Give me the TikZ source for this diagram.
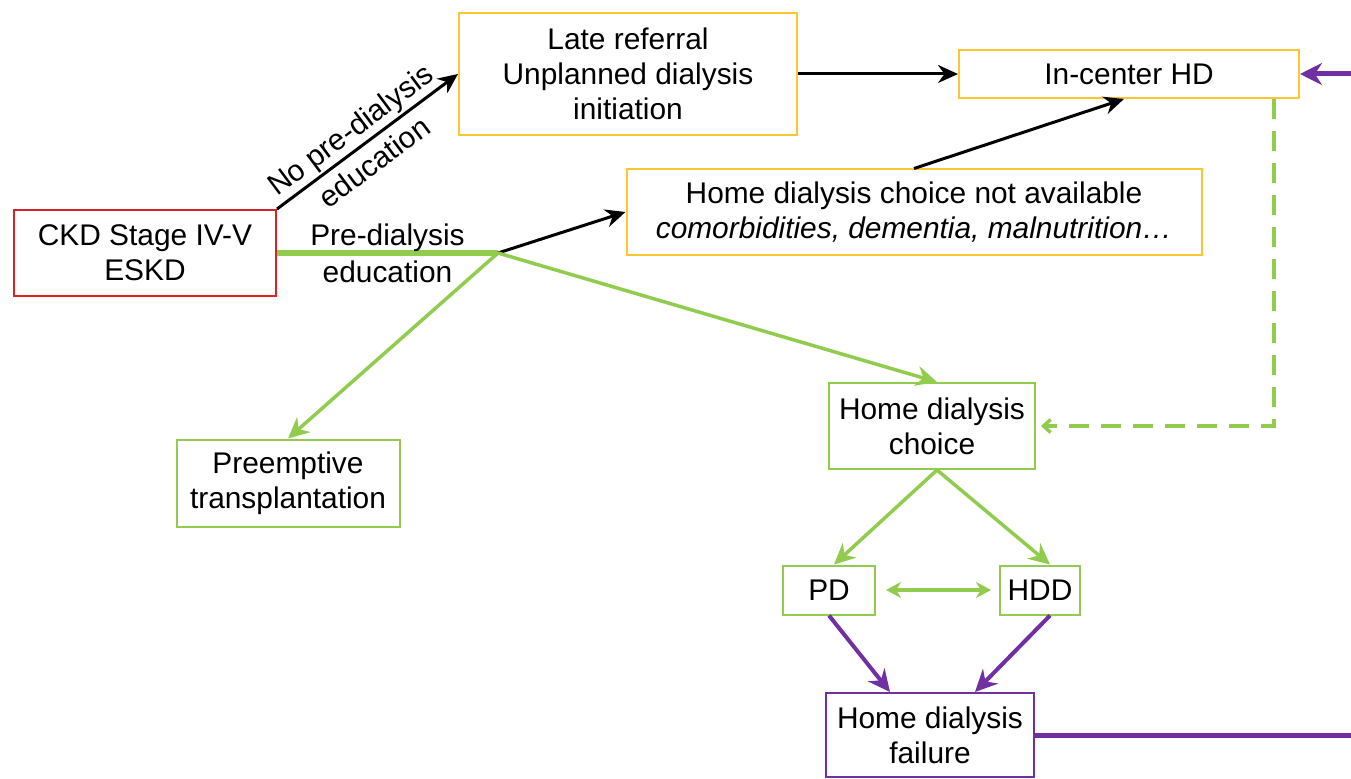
\documentclass[tikz,border=0pt]{standalone}
\usepackage{fontspec}
\setmainfont{Liberation Sans}
\usetikzlibrary{arrows.meta}
\definecolor{brickred}{rgb}{0.86, 0.13, 0.15}
\definecolor{mustard}{rgb}{0.98, 0.78, 0.20}
\definecolor{grassgreen}{rgb}{0.57, 0.80, 0.31}
\definecolor{grape}{rgb}{0.44, 0.19, 0.63}

\begin{document}
\begin{tikzpicture}[x=0.2mm, y=-0.2mm,
    box/.style={draw, line width=0.4mm, inner sep=0pt, align=center,
      font=\fontsize{17}{20}\selectfont},
    pathlabel/.style={text=black, align=center, font=\fontsize{17}{20}\selectfont},
    blackarrow/.style={black, line width=0.6mm, -{Stealth[length=4mm, width=3.6mm]}},
    greenarrow/.style={grassgreen, line width=0.7mm, -{Stealth[length=4.2mm, width=4mm]}},
    purplearrow/.style={grape, line width=0.8mm, -{Stealth[length=4.4mm, width=4.2mm]}}]
  \useasboundingbox (0,0) rectangle (1351,779);

  \node [box, draw=brickred, minimum width=52.4mm, minimum height=17.2mm] (ckd) at (145,253) {CKD Stage IV-V\\ESKD};
  \node [box, draw=mustard, minimum width=67.6mm, minimum height=24.4mm] (late) at (628,74) {Late referral\\Unplanned dialysis\\initiation};
  \node [box, draw=mustard, minimum width=68mm, minimum height=9.6mm] (incenter) at (1129,74) {In-center HD};
  \node [box, draw=mustard, minimum width=115mm, minimum height=17mm] (notavail) at (914,212) {Home dialysis choice not available\\\textit{comorbidities, dementia, malnutrition…}};
  \node [box, draw=grassgreen, minimum width=44.6mm, minimum height=17.4mm] (preempt) at (288,483) {Preemptive\\transplantation};
  \node [box, draw=grassgreen, minimum width=41.2mm, minimum height=17.2mm] (choice) at (932,426) {Home dialysis\\choice};
  \node [box, draw=grassgreen, minimum width=18.4mm, minimum height=9.8mm] (pd) at (829,590) {PD};
  \node [box, draw=grassgreen, minimum width=16mm, minimum height=9.8mm] (hdd) at (1040,590) {HDD};
  \node [box, draw=grape, minimum width=41.6mm, minimum height=16.8mm] (failure) at (930,735) {Home dialysis\\failure};

  \coordinate (J) at (498,253);
  \coordinate (RR) at (1357,735);
  \coordinate (RT) at (1357,74);

  % without education
  \draw [blackarrow] (ckd.north east) -- node [pathlabel, sloped, pos=0.47] {No pre-dialysis\\[3pt]education} (late.west);
  \draw [blackarrow] (late.east) -- (incenter.west);
  \draw [blackarrow] (notavail.north) -- ([xshift=-1mm]incenter.south);

  % with education
  \draw [grassgreen, line width=1.2mm] (ckd.east) -- node [pathlabel] {Pre-dialysis\\[1pt]education} (J);
  \draw [blackarrow] (J) -- (notavail.west);
  \draw [greenarrow] (J) -- (preempt.north);
  \draw [greenarrow] (J) -- ([xshift=1mm]choice.north);
  \draw [greenarrow] ([xshift=1mm]choice.south) -- ([xshift=1mm]pd.north);
  \draw [greenarrow] ([xshift=1mm]choice.south) -- ([xshift=2mm]hdd.north);
  \draw [grassgreen, line width=0.7mm, {Stealth[length=3mm, width=3.2mm]}-{Stealth[length=3mm, width=3.2mm]}] ([xshift=2mm]pd.east) -- ([xshift=-1.6mm]hdd.west);
  \draw [grassgreen, line width=0.7mm, dash pattern=on 4mm off 2.4mm, -{Straight Barb[length=1.4mm, width=2.6mm]}] ([xshift=29mm]incenter.south) |- ([xshift=1mm]choice.east);

  % failure
  \draw [purplearrow] (pd.south) -- ([xshift=-8mm]failure.north);
  \draw [purplearrow] ([xshift=2mm]hdd.south) -- ([xshift=9mm]failure.north);
  \draw [grape, line width=1mm, -{Stealth[length=4.4mm, width=4.4mm]}] (failure.east) -- (RR) -- (RT) -- (incenter.east);
\end{tikzpicture}
\end{document}
